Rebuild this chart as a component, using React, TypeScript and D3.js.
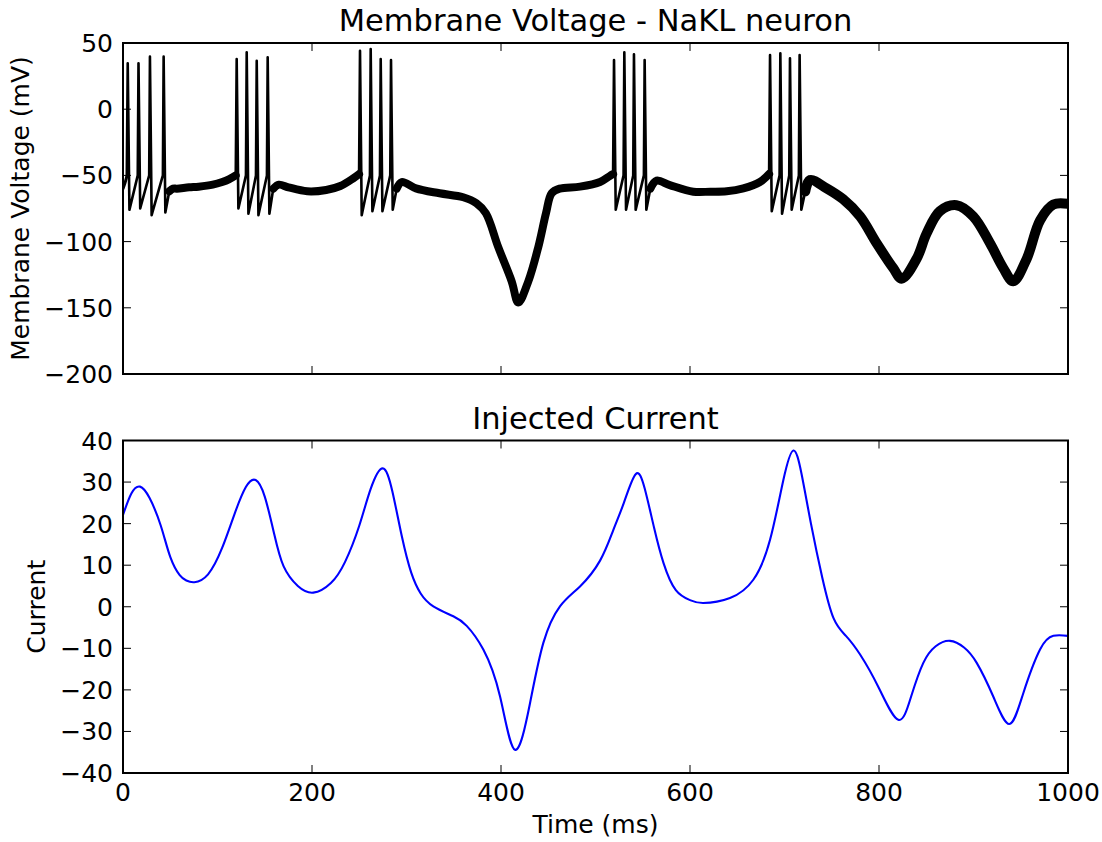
import React from "react";
import * as d3 from "d3";

// ---------- data ----------
const xTicks = [0, 200, 400, 600, 800, 1000];
const voltageTicks = [50, 0, -50, -100, -150, -200];
const currentTicks = [40, 30, 20, 10, 0, -10, -20, -30, -40];

// spikes (ms, mV)
const burstSizes = [4, 4, 4, 4, 4];
const spikeTimes = [5, 16.4, 28.5, 43, 120.3, 130.9, 141.5, 153.1, 250.8, 262.1, 272.7, 283.6, 519.6, 530.5, 540.7, 552, 684.7, 695.6, 705.8, 716];
const spikePeaks = [34.7, 34.7, 39.7, 39.7, 37.9, 43, 36.6, 39.2, 44.2, 45.5, 37.9, 37.2, 37.2, 43, 41.5, 37.2, 40.9, 42.2, 38.4, 40.9];
const spikeTroughs = [-76, -75, -80, -78, -75, -79, -80, -79, -80, -77, -77, -76, -76, -76, -76, -76, -77, -79, -76, -76];
const spikeOnsets = [-51, -50, -50, -50, -50, -50, -50, -50, -50, -50, -50, -50, -50, -50, -50, -50, -50, -50, -50, -50];

// sub-threshold (noisy) trace knots between bursts
const quietTimes = [
  0, 2, 4,
  49, 53, 57, 70, 80, 95, 105, 112, 119.3,
  159, 165, 175, 195, 215, 230, 244, 249.8,
  289.6, 295, 310, 335, 360, 374, 384, 397, 411.3, 418.3, 428.9, 439.5, 447.6, 453.6, 462, 483.6, 504.8, 515, 518.6,
  558, 564.7, 578.6, 603.5, 621.5, 638.8, 656.4, 674, 683.7,
  722, 727, 744.6, 762, 780, 797.5, 815, 824, 839.8, 850.3, 864.4, 882, 899.8, 917.5, 931.5, 942, 956.3, 970.4, 984.5, 1000,
];
const quietValues = [
  -60, -56, -51,
  -62, -60, -60, -59, -58.5, -57, -55, -53, -50,
  -60, -57, -59, -62, -61, -58, -52, -49,
  -60, -55, -59.8, -63.5, -66.5, -71, -78.6, -104, -130, -146, -130, -104, -78.6, -63.5, -60, -58.5, -55, -50.5, -49,
  -60, -54, -57.3, -62.3, -62.3, -62, -59.8, -55, -49,
  -62, -53.5, -59.8, -68, -81, -101.3, -120, -128, -113, -94, -77, -72.5, -81, -101.3, -120, -130, -113, -84, -72, -71.5,
];
const quietThickness = [3, 8, 8, 8, 8, 10];

// injected current
const currentTimes = [0, 9, 18, 28, 40, 50, 60, 67, 75.5, 90, 105, 118, 130, 140.4, 150, 160, 170, 185, 201.4, 220, 235, 250, 262, 274.8, 285, 295, 305, 315, 328.4, 349.5, 363.7, 381.3, 399, 414.8, 430.7, 444.8, 462.4, 483.6, 504.8, 518.9, 530, 542.5, 552, 562, 572, 585, 600, 614, 642.3, 667, 684.7, 698.8, 709.4, 718, 728, 740, 752, 765, 780, 800, 820.4, 834, 846.9, 860, 875.1, 890, 903.4, 920.9, 937.9, 952.7, 970.4, 984.5, 1000];
const currentValues = [22.1, 27.3, 28.9, 26.2, 19.5, 12, 7.6, 6.3, 5.9, 7.8, 14.2, 22.3, 28.8, 30.5, 26.5, 17.5, 9.7, 5, 3.4, 5.7, 10.8, 19.5, 28.3, 33.3, 27.8, 17, 8.2, 3.2, 0.1, -2.3, -4.6, -10.3, -21.6, -34.4, -23.2, -8.7, 0.1, 4.9, 11.1, 18.5, 25, 31.9, 28.5, 19, 10.5, 4, 1.6, 0.9, 2.1, 6.5, 16.1, 30.5, 37.6, 32, 20, 7, -2.8, -7, -11.5, -19.6, -27.2, -21.6, -13.5, -9.5, -8.2, -9.8, -13.5, -21.6, -28.2, -20.8, -10.3, -7, -7];

// ---------- layout ----------
const FONT = "DejaVu Sans, sans-serif";
const X0 = 123, X1 = 1068;
const TOP = { y0: 43, y1: 374 };
const BOT = { y0: 440.5, y1: 773 };
const TICK = 8;

type P = [number, number];

function buildVoltage() {
  const bursts: { pts: P[]; start: number; end: number }[] = [];
  let k = 0;
  for (const n of burstSizes) {
    const pts: P[] = [];
    for (let j = 0; j < n; j++) {
      const t = spikeTimes[k + j];
      if (j > 0) pts.push([t - 0.8, spikeOnsets[k + j]]);
      pts.push([t, spikePeaks[k + j]]);
      pts.push([t + 1.8, spikeTroughs[k + j]]);
    }
    bursts.push({ pts, start: spikeTimes[k], end: spikeTimes[k + n - 1] });
    k += n;
  }
  const quietKnots: P[] = quietTimes.map((t, i) => [t, quietValues[i]]);
  const segments: P[][] = [];
  const edges = [-Infinity, ...bursts.map((b) => b.start), Infinity];
  const ends = [-Infinity, ...bursts.map((b) => b.end)];
  for (let s = 0; s < bursts.length + 1; s++) {
    segments.push(quietKnots.filter((p) => p[0] > ends[s] && p[0] < edges[s + 1]));
  }
  const thin: P[][] = bursts.map((b, i) => {
    const before = segments[i][segments[i].length - 1];
    const after = segments[i + 1][0];
    return [before, ...b.pts, after];
  });
  return { segments, thin };
}

function Axes({ y0, y1, yScale, yTicks, showX, x }: any) {
  const fmt = (v: number) => (v < 0 ? "\u2212" + Math.abs(v) : String(v));
  return (
    <g>
      {xTicks.map((t) => (
        <g key={"x" + t}>
          <line x1={x(t)} x2={x(t)} y1={y1} y2={y1 - TICK} stroke="#000" strokeWidth={1} />
          <line x1={x(t)} x2={x(t)} y1={y0} y2={y0 + TICK} stroke="#000" strokeWidth={1} />
          {showX && (
            <text x={x(t)} y={y1 + 28} textAnchor="middle" fontSize={25} fontFamily={FONT}>
              {t}
            </text>
          )}
        </g>
      ))}
      {yTicks.map((v: number) => (
        <g key={"y" + v}>
          <line x1={X0} x2={X0 + TICK} y1={yScale(v)} y2={yScale(v)} stroke="#000" strokeWidth={1} />
          <line x1={X1} x2={X1 - TICK} y1={yScale(v)} y2={yScale(v)} stroke="#000" strokeWidth={1} />
          <text x={X0 - 10} y={yScale(v)} dy="0.36em" textAnchor="end" fontSize={25} fontFamily={FONT}>
            {fmt(v)}
          </text>
        </g>
      ))}
      <rect x={X0} y={y0} width={X1 - X0} height={y1 - y0} fill="none" stroke="#000" strokeWidth={2} />
    </g>
  );
}

export default function App() {
  const x = d3.scaleLinear().domain([0, 1000]).range([X0, X1]);
  const yV = d3.scaleLinear().domain([-200, 50]).range([TOP.y1, TOP.y0]);
  const yI = d3.scaleLinear().domain([-40, 40]).range([BOT.y1, BOT.y0]);

  const { segments, thin } = buildVoltage();
  const smooth = d3.line<P>().x((d) => x(d[0])).y((d) => yV(d[1])).curve(d3.curveCatmullRom.alpha(0.5));
  const sharp = d3.line<P>().x((d) => x(d[0])).y((d) => yV(d[1])).curve(d3.curveLinear);
  const curLine = d3
    .line<number>()
    .x((_, i) => x(currentTimes[i]))
    .y((d) => yI(d))
    .curve(d3.curveNatural);

  return (
    <svg width={1102} height={842} style={{ position: "absolute", left: 0, top: 0, background: "#fff" }}>
      <defs>
        <clipPath id="clipTop">
          <rect x={X0} y={TOP.y0} width={X1 - X0} height={TOP.y1 - TOP.y0} />
        </clipPath>
        <clipPath id="clipBot">
          <rect x={X0} y={BOT.y0} width={X1 - X0} height={BOT.y1 - BOT.y0} />
        </clipPath>
      </defs>
      <rect x={0} y={0} width={1102} height={842} fill="#fff" />

      {/* top panel */}
      <g clipPath="url(#clipTop)">
        {segments.map((seg, i) => (
          <path key={"q" + i} d={smooth(seg) || ""} fill="none" stroke="#000" strokeWidth={quietThickness[i]} strokeLinejoin="round" strokeLinecap="round" />
        ))}
        {thin.map((seg, i) => (
          <path key={"b" + i} d={sharp(seg) || ""} fill="none" stroke="#000" strokeWidth={2.6} strokeLinejoin="round" />
        ))}
      </g>
      <Axes y0={TOP.y0} y1={TOP.y1} yScale={yV} yTicks={voltageTicks} showX={false} x={x} />
      <text x={(X0 + X1) / 2} y={31} textAnchor="middle" fontSize={30.5} fontFamily={FONT}>
        Membrane Voltage - NaKL neuron
      </text>
      <text transform={`translate(29,${(TOP.y0 + TOP.y1) / 2}) rotate(-90)`} textAnchor="middle" fontSize={25} fontFamily={FONT}>
        Membrane Voltage (mV)
      </text>

      {/* bottom panel */}
      <g clipPath="url(#clipBot)">
        <path d={curLine(currentValues) || ""} fill="none" stroke="#0000ff" strokeWidth={2.1} />
      </g>
      <Axes y0={BOT.y0} y1={BOT.y1} yScale={yI} yTicks={currentTicks} showX={true} x={x} />
      <text x={(X0 + X1) / 2} y={429} textAnchor="middle" fontSize={30.5} fontFamily={FONT}>
        Injected Current
      </text>
      <text transform={`translate(45,${(BOT.y0 + BOT.y1) / 2}) rotate(-90)`} textAnchor="middle" fontSize={25} fontFamily={FONT}>
        Current
      </text>
      <text x={(X0 + X1) / 2} y={833} textAnchor="middle" fontSize={25} fontFamily={FONT}>
        Time (ms)
      </text>
    </svg>
  );
}
